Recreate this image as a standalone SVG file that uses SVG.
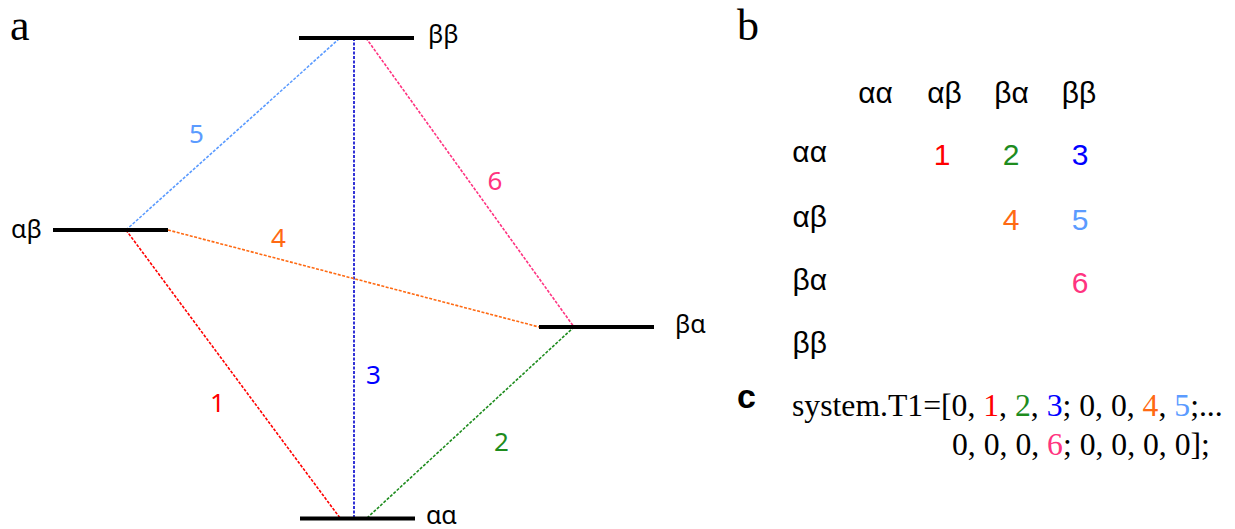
<svg xmlns="http://www.w3.org/2000/svg" width="1235" height="529" viewBox="0 0 1235 529">
<style>
.lvl{stroke:#000;stroke-width:4;stroke-linecap:butt}
.cn{fill:none;stroke-width:1.6;stroke-dasharray:3 1.5}
.gl{font-family:"Noto Sans","DejaVu Sans",sans-serif;font-size:25px;fill:#000}
.num{font-family:"Noto Sans","DejaVu Sans",sans-serif;font-size:26px;text-anchor:middle}
.tb{font-family:"Liberation Sans",Arial,sans-serif;font-size:30px;fill:#000}
.tn{font-family:"Liberation Sans",Arial,sans-serif;font-size:30px;text-anchor:middle}
.code{font-family:"Liberation Serif","Times New Roman",serif;font-size:31.7px;fill:#000}
.panel{font-family:"Liberation Serif","Times New Roman",serif;font-size:44px;fill:#000}
.c1{fill:#FF0000}.c2{fill:#1E8C1E}.c3{fill:#0000FF}.c4{fill:#FF6A13}.c5{fill:#5B9BFF}.c6{fill:#FF3380}
</style>
<rect width="1235" height="529" fill="#fff"/>
<text class="panel" x="10" y="40">a</text>
<text class="panel" x="737" y="40">b</text>
<text x="737" y="408" style="font-family:'Liberation Sans',Arial,sans-serif;font-size:34px;font-weight:bold">c</text>
<g id="connectors">
<line class="cn" x1="126" y1="230" x2="340" y2="518" stroke="#FF0000"/>
<line class="cn" x1="367" y1="518" x2="574" y2="327" stroke="#1E8C1E"/>
<line class="cn" x1="354" y1="38" x2="354" y2="518" stroke="#0000CC"/>
<line class="cn" x1="168" y1="230" x2="539" y2="327" stroke="#FF6A13"/>
<line class="cn" x1="126" y1="230" x2="340" y2="38" stroke="#5B9BFF"/>
<line class="cn" x1="366" y1="38" x2="574" y2="327" stroke="#FF3380"/>
<text class="num c1" x="217.5" y="412">1</text>
<text class="num c2" x="501.5" y="451">2</text>
<text class="num c3" x="373.5" y="384">3</text>
<text class="num c4" x="278.5" y="247">4</text>
<text class="num c5" x="196.5" y="143">5</text>
<text class="num c6" x="495" y="190">6</text>
</g>
<g id="level-bb">
<line class="lvl" x1="299" y1="38" x2="414" y2="38"/>
<text class="gl" x="428" y="43">ββ</text>
</g>
<g id="level-ab">
<line class="lvl" x1="53" y1="230" x2="168" y2="230"/>
<text class="gl" x="11" y="238">αβ</text>
</g>
<g id="level-ba">
<line class="lvl" x1="539" y1="327" x2="654" y2="327"/>
<text class="gl" x="675" y="333">βα</text>
</g>
<g id="level-aa">
<line class="lvl" x1="300" y1="518.5" x2="415" y2="518.5"/>
<text class="gl" x="426" y="524">αα</text>
</g>
<g id="table">
<text class="tb" x="875.5" y="103" text-anchor="middle">αα</text>
<text class="tb" x="944.5" y="103" text-anchor="middle">αβ</text>
<text class="tb" x="1011.5" y="103" text-anchor="middle">βα</text>
<text class="tb" x="1079" y="103" text-anchor="middle">ββ</text>
<text class="tb" x="827" y="162" text-anchor="end">αα</text>
<text class="tb" x="827" y="227" text-anchor="end">αβ</text>
<text class="tb" x="827" y="290" text-anchor="end">βα</text>
<text class="tb" x="827" y="353" text-anchor="end">ββ</text>
<text class="tn c1" x="942" y="165">1</text>
<text class="tn c2" x="1011" y="165">2</text>
<text class="tn c3" x="1080" y="165">3</text>
<text class="tn c4" x="1011" y="230">4</text>
<text class="tn c5" x="1080" y="230">5</text>
<text class="tn c6" x="1080" y="293">6</text>
</g>
<g id="code">
<text class="code" x="792" y="416">system.T1=[0, <tspan class="c1">1</tspan>, <tspan class="c2">2</tspan>, <tspan class="c3">3</tspan>; 0, 0, <tspan class="c4">4</tspan>, <tspan class="c5">5</tspan>;...</text>
<text class="code" x="952" y="455">0, 0, 0, <tspan class="c6">6</tspan>; 0, 0, 0, 0];</text>
</g>
</svg>
